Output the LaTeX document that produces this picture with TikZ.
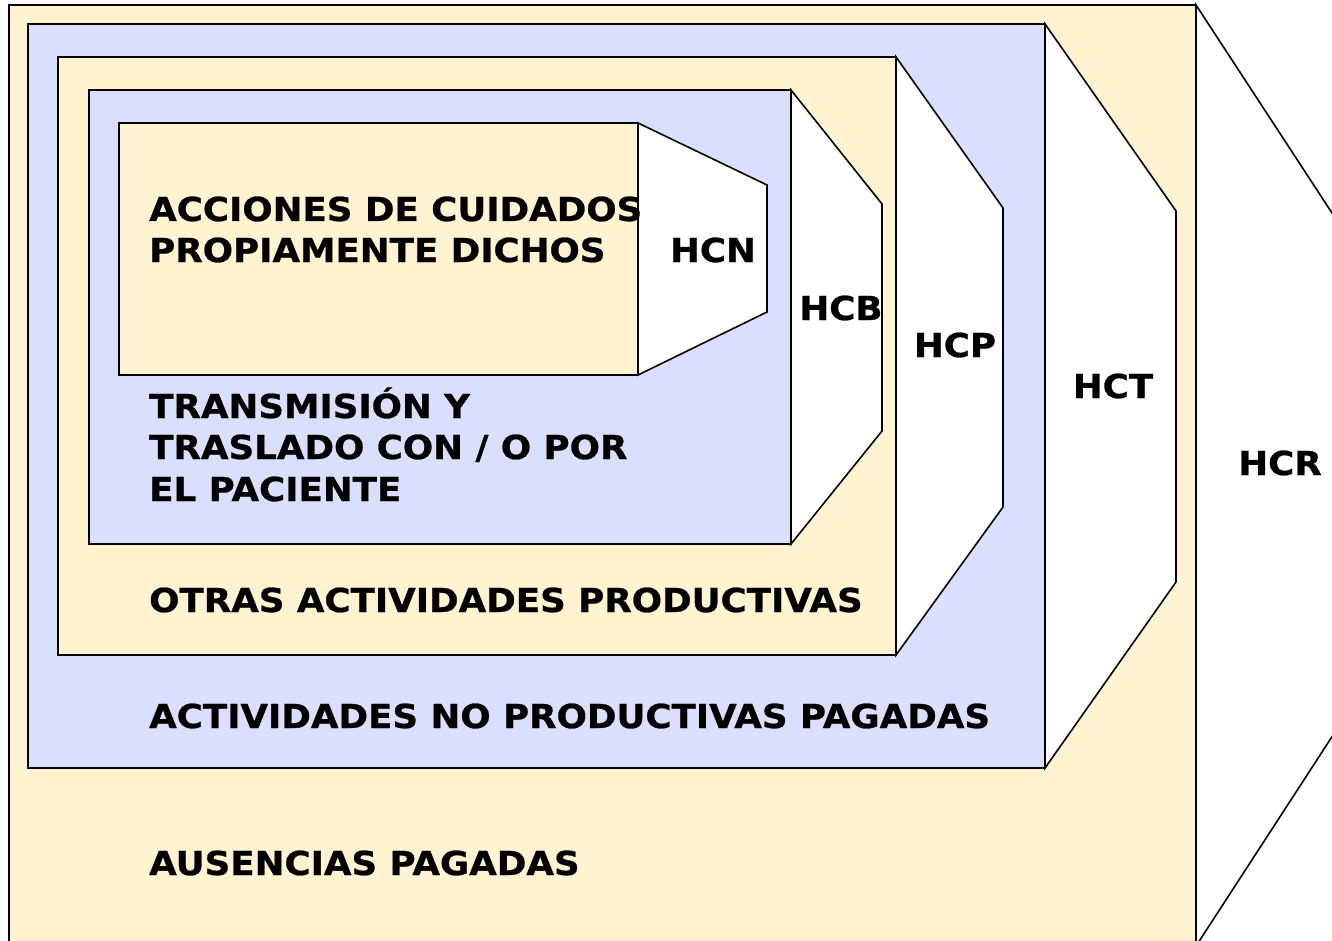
\documentclass[tikz,border=0pt]{standalone}
\usepackage{fontspec}
\setmainfont{DejaVu Sans}[FakeStretch=1.08, BoldFeatures={FakeBold=0.8}]
\usetikzlibrary{positioning}
\definecolor{crema}{RGB}{255,243,210}
\definecolor{lila}{RGB}{217,223,253}
\tikzset{caja/.style={draw=black, line width=2pt},
  hora/.style={draw=black, line width=1.6pt, fill=white, line join=miter},
  rotulo/.style={anchor=base west, inner sep=0pt, font=\fontsize{33}{40}\selectfont\bfseries},
  sigla/.style={inner sep=0pt, font=\fontsize{33}{40}\selectfont\bfseries}}

\begin{document}
\begin{tikzpicture}[x=1pt,y=-1pt]
   \useasboundingbox (0,0) rectangle (1332,941);
   \clip (0,0) rectangle (1332,941);
   % ausencias pagadas / HCR
   \begin{scope}
    \draw[caja, fill=crema] (9,5) rectangle (1196,946);
    \draw[hora] (1196,5) -- (1400,317) -- (1400,632) -- (1196,946) -- cycle;
   \end{scope}
   % no productivas / HCT
   \begin{scope}
    \draw[caja, fill=lila] (28,24) rectangle (1045,768);
    \draw[hora] (1045,24) -- (1176,211) -- (1176,582) -- (1045,768) -- cycle;
   \end{scope}
   % otras productivas / HCP
   \begin{scope}
    \draw[caja, fill=crema] (58,57) rectangle (896,655);
    \draw[hora] (896,57) -- (1003,208) -- (1003,507) -- (896,655) -- cycle;
   \end{scope}
   % transmision / HCB
   \begin{scope}
    \draw[caja, fill=lila] (89,90) rectangle (791,544);
    \draw[hora] (791,90) -- (882,204) -- (882,431) -- (791,544) -- cycle;
   \end{scope}
   % cuidados / HCN
   \begin{scope}
    \draw[caja, fill=crema] (119,123) rectangle (638,375);
    \draw[hora] (638,123) -- (767,185) -- (767,312) -- (638,375) -- cycle;
   \end{scope}
   % textos
   \node[rotulo] (acc1) at (149,221) {ACCIONES DE CUIDADOS};
   \node[rotulo] (acc2) at (149,262) {PROPIAMENTE DICHOS};
   \node[rotulo] (tra1) at (149,418) {TRANSMISIÓN Y};
   \node[rotulo] (tra2) at (149,459) {TRASLADO CON / O POR};
   \node[rotulo] (tra3) at (149,501) {EL PACIENTE};
   \node[rotulo] (otr) at (149,612) {OTRAS ACTIVIDADES PRODUCTIVAS};
   \node[rotulo] (anp) at (149,728) {ACTIVIDADES NO PRODUCTIVAS PAGADAS};
   \node[rotulo] (aus) at (149,875) {AUSENCIAS PAGADAS};
   \node[sigla] (hcn) at (713,250) {HCN};
   \node[sigla] (hcb) at (841,308) {HCB};
   \node[sigla] (hcp) at (955,345) {HCP};
   \node[sigla] (hct) at (1113,386) {HCT};
   \node[sigla] (hcr) at (1280,463) {HCR};
  \end{tikzpicture}
\end{document}
